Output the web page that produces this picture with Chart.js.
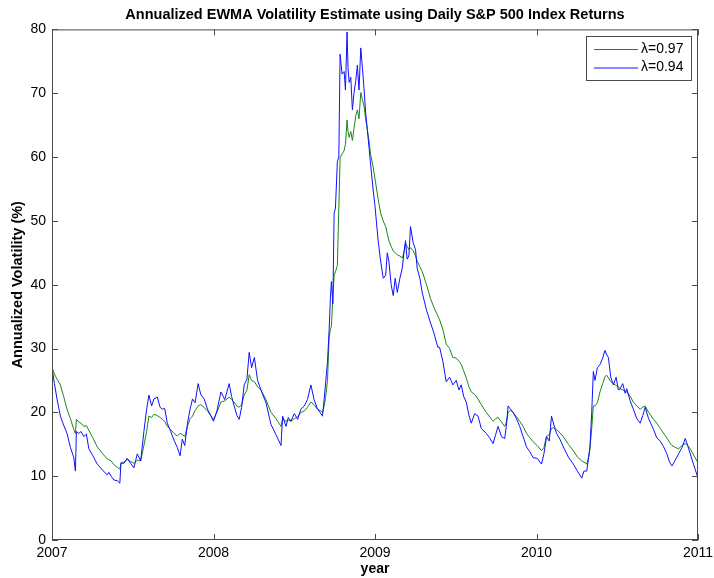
<!DOCTYPE html>
<html>
<head>
<meta charset="utf-8">
<script src="https://cdn.jsdelivr.net/npm/chart.js@4/dist/chart.umd.min.js"></script>
<style>
  html, body { margin: 0; padding: 0; background: #fff; }
  #wrap { width: 714px; height: 578px; }
</style>
</head>
<body>
<div id="wrap"><canvas id="myChart" width="714" height="578"></canvas></div>
<script>
// data (decimal years)
const years = [
  2007.000, 2007.015, 2007.031, 2007.052, 2007.072, 2007.093, 2007.114, 2007.135, 2007.145, 2007.151,
  2007.166, 2007.180, 2007.197, 2007.213, 2007.228, 2007.253, 2007.280, 2007.311, 2007.342, 2007.352,
  2007.366, 2007.383, 2007.404, 2007.420, 2007.427, 2007.445, 2007.466, 2007.487, 2007.507, 2007.528,
  2007.549, 2007.569, 2007.586, 2007.600, 2007.617, 2007.631, 2007.652, 2007.669, 2007.683, 2007.698,
  2007.714, 2007.735, 2007.756, 2007.776, 2007.793, 2007.807, 2007.822, 2007.839, 2007.855, 2007.870,
  2007.886, 2007.905, 2007.921, 2007.942, 2007.963, 2007.983, 2008.000, 2008.021, 2008.046, 2008.070,
  2008.097, 2008.112, 2008.128, 2008.145, 2008.159, 2008.174, 2008.190, 2008.207, 2008.221, 2008.236,
  2008.253, 2008.273, 2008.294, 2008.325, 2008.356, 2008.387, 2008.418, 2008.428, 2008.449, 2008.463,
  2008.479, 2008.500, 2008.521, 2008.541, 2008.562, 2008.582, 2008.603, 2008.623, 2008.644, 2008.660,
  2008.675, 2008.685, 2008.695, 2008.706, 2008.716, 2008.724, 2008.730, 2008.739, 2008.747, 2008.755,
  2008.767, 2008.776, 2008.784, 2008.796, 2008.809, 2008.817, 2008.827, 2008.833, 2008.840, 2008.850,
  2008.860, 2008.870, 2008.881, 2008.891, 2008.901, 2008.912, 2008.922, 2008.932, 2008.942, 2008.953,
  2008.963, 2008.973, 2008.988, 2009.000, 2009.019, 2009.035, 2009.051, 2009.066, 2009.076, 2009.086,
  2009.100, 2009.113, 2009.125, 2009.138, 2009.154, 2009.169, 2009.179, 2009.189, 2009.199, 2009.210,
  2009.220, 2009.237, 2009.251, 2009.261, 2009.278, 2009.292, 2009.319, 2009.344, 2009.364, 2009.389,
  2009.400, 2009.420, 2009.441, 2009.462, 2009.482, 2009.503, 2009.520, 2009.534, 2009.549, 2009.565,
  2009.582, 2009.596, 2009.617, 2009.638, 2009.658, 2009.689, 2009.710, 2009.731, 2009.747, 2009.762,
  2009.783, 2009.803, 2009.814, 2009.824, 2009.839, 2009.855, 2009.876, 2009.896, 2009.917, 2009.938,
  2009.959, 2009.979, 2010.004, 2010.031, 2010.046, 2010.062, 2010.079, 2010.093, 2010.108, 2010.124,
  2010.145, 2010.166, 2010.197, 2010.228, 2010.253, 2010.280, 2010.294, 2010.311, 2010.323, 2010.331,
  2010.342, 2010.352, 2010.362, 2010.377, 2010.393, 2010.410, 2010.424, 2010.435, 2010.445, 2010.460,
  2010.476, 2010.493, 2010.507, 2010.518, 2010.534, 2010.549, 2010.559, 2010.580, 2010.600, 2010.621,
  2010.642, 2010.658, 2010.673, 2010.694, 2010.725, 2010.745, 2010.766, 2010.787, 2010.807, 2010.824,
  2010.839, 2010.859, 2010.880, 2010.901, 2010.921, 2010.936, 2010.952, 2010.973, 2011.000
];

// lambda = 0.97
const vol97 = [
  27.0, 26.0, 25.2, 24.3, 22.5, 20.5, 19.0, 17.3, 16.7, 18.9,
  18.5, 18.3, 17.8, 17.9, 17.2, 16.0, 14.6, 13.6, 12.7, 12.6,
  12.4, 11.8, 11.4, 11.1, 12.0, 12.2, 12.6, 12.3, 12.0, 12.5,
  12.4, 14.8, 17.0, 19.4, 19.2, 19.7, 19.5, 19.2, 18.9, 18.6,
  17.8, 17.3, 16.7, 16.3, 16.7, 16.5, 16.2, 17.8, 19.0, 19.4,
  20.3, 21.0, 21.2, 20.8, 20.2, 19.5, 18.9, 20.0, 21.6, 21.8,
  22.4, 22.0, 21.6, 21.0, 20.8, 21.2, 22.7, 23.5, 25.9, 25.0,
  24.8, 24.0, 23.5, 22.0, 20.0, 19.0, 17.8, 19.0, 18.6, 18.8,
  18.6, 19.0, 19.3, 20.0, 20.2, 20.8, 21.6, 21.2, 20.5, 20.3,
  20.0, 21.0, 22.5, 25.0, 31.8, 33.0, 33.5, 38.0, 41.5, 42.0,
  43.0, 52.0, 59.9, 60.5, 61.0, 62.0, 65.8, 64.0, 63.1, 64.0,
  62.6, 64.5, 66.5, 67.4, 66.0, 70.1, 69.0, 68.0, 66.0, 64.2,
  62.5, 60.4, 58.5, 56.6, 53.5, 51.2, 50.0, 49.1, 48.0, 46.9,
  46.0, 45.3, 45.0, 44.7, 44.5, 44.2, 45.0, 46.4, 46.0, 45.5,
  45.8, 45.3, 44.5, 43.7, 42.8, 42.1, 40.0, 37.8, 36.5, 35.1,
  34.5, 33.0, 30.7, 30.0, 28.6, 28.5, 28.0, 27.5, 26.5, 25.4,
  24.0, 23.2, 22.8, 22.1, 21.2, 20.0, 19.3, 18.6, 19.0, 19.2,
  18.5, 17.8, 18.5, 20.0, 20.3, 20.0, 19.3, 18.6, 17.8, 16.7,
  16.0, 15.4, 14.8, 14.0, 14.5, 16.2, 16.5, 17.5, 17.6, 17.3,
  16.8, 16.2, 15.0, 14.0, 13.0, 12.4, 12.2, 11.9, 13.0, 14.3,
  17.5, 21.0, 21.0, 21.5, 23.2, 24.5, 25.6, 25.8, 25.4, 24.8,
  24.5, 24.2, 24.0, 23.7, 23.5, 23.3, 23.2, 22.5, 21.6, 21.0,
  20.5, 20.8, 21.0, 20.0, 18.9, 18.3, 17.5, 16.7, 16.0, 15.3,
  14.8, 14.5, 14.3, 14.8, 15.1, 14.8, 14.3, 13.3, 12.1
];

// lambda = 0.94
const vol94 = [
  27.0, 24.5, 22.1, 19.4, 18.0, 16.7, 14.5, 12.9, 10.8, 17.0,
  16.7, 17.0, 16.2, 16.6, 14.3, 13.2, 11.9, 11.0, 10.2, 10.6,
  10.0, 9.4, 9.3, 8.9, 12.1, 12.0, 12.8, 12.0, 11.3, 13.5,
  12.4, 17.0, 20.5, 22.7, 21.0, 22.1, 22.4, 20.8, 20.5, 20.6,
  18.3, 17.0, 15.6, 14.5, 13.2, 15.8, 14.8, 18.3, 20.5, 22.1,
  21.5, 24.5, 22.8, 22.1, 20.5, 19.5, 18.6, 20.2, 23.2, 22.0,
  24.5, 22.5, 21.0, 19.5, 18.9, 20.8, 24.3, 25.2, 29.4, 27.0,
  28.6, 25.0, 23.5, 21.5, 18.1, 16.5, 14.8, 19.4, 17.8, 19.2,
  18.6, 19.8, 18.9, 20.5, 21.0, 22.0, 24.3, 22.0, 20.5, 20.0,
  19.4, 22.0, 24.8, 28.0, 32.9, 38.0, 40.5, 37.0, 51.2, 52.0,
  59.3, 60.0, 76.1, 73.0, 73.4, 70.5, 79.6, 74.0, 71.7, 72.5,
  67.4, 70.0, 72.0, 74.4, 70.5, 77.1, 74.0, 70.7, 67.0, 64.2,
  61.5, 58.8, 55.0, 52.3, 47.0, 43.7, 41.0, 41.5, 45.0, 43.7,
  40.0, 38.3, 41.0, 38.8, 41.0, 42.6, 45.0, 46.9, 44.0, 44.5,
  49.1, 46.5, 45.5, 42.6, 41.0, 38.8, 36.0, 34.0, 32.5, 30.2,
  30.2, 28.0, 24.8, 25.5, 24.3, 25.0, 23.5, 24.3, 22.5, 21.6,
  19.5, 18.3, 19.8, 19.4, 17.5, 16.7, 16.0, 15.1, 16.5, 17.8,
  16.2, 15.9, 18.0, 21.0, 20.5, 20.0, 19.0, 17.8, 16.2, 14.6,
  13.8, 12.9, 12.8, 11.9, 13.5, 16.2, 15.5, 19.4, 18.0, 16.7,
  15.8, 14.6, 13.0, 11.9, 10.8, 9.7, 10.8, 10.8, 13.0, 14.6,
  20.0, 26.4, 25.0, 27.0, 27.5, 28.5, 29.7, 29.0, 28.6, 25.5,
  24.3, 25.5, 23.5, 23.7, 24.5, 23.0, 23.7, 21.8, 20.5, 19.0,
  18.3, 19.5, 20.8, 19.0, 17.3, 16.0, 15.5, 14.6, 13.5, 12.2,
  11.6, 12.5, 13.5, 14.5, 15.9, 14.8, 13.5, 11.8, 9.7
];

const seriesLabels = ['\u03bb=0.97', '\u03bb=0.94'];
const seriesColors = ['#1a861a', '#1010ff'];
const yTicks = [0, 10, 20, 30, 40, 50, 60, 70, 80];
const xTicks = [2007, 2008, 2009, 2010, 2011];

const FONT = '"Liberation Sans", Arial, Helvetica, sans-serif';

function pts(vals) {
    return years.map((y, i) => ({ x: y, y: vals[i] }));
}

// box, inward ticks and legend, MATLAB style
const matlabAxes = {
    id: 'matlabAxes',
    afterDraw(chart) {
        const c = chart.ctx;
        const a = chart.chartArea;
        const xs = chart.scales.x, ys = chart.scales.y;
        c.save();
        c.strokeStyle = '#4a4a4a';
        c.lineWidth = 1;
        c.strokeRect(a.left + 0.5, a.top + 0.5, a.right - a.left - 1, a.bottom - a.top - 1);
        c.beginPath();
        yTicks.forEach(v => {
            const py = Math.round(ys.getPixelForValue(v)) + 0.5;
            c.moveTo(a.left, py); c.lineTo(a.left + 6, py);
            c.moveTo(a.right, py); c.lineTo(a.right - 6, py);
        });
        xTicks.forEach(v => {
            const px = Math.round(xs.getPixelForValue(v)) + 0.5;
            c.moveTo(px, a.bottom); c.lineTo(px, a.bottom - 6);
            c.moveTo(px, a.top); c.lineTo(px, a.top + 6);
        });
        c.stroke();

        // legend
        const bx = 586, by = 36, bw = 105, bh = 44;
        c.fillStyle = '#fff';
        c.fillRect(bx, by, bw, bh);
        c.strokeStyle = '#4a4a4a';
        c.strokeRect(bx + 0.5, by + 0.5, bw, bh);
        c.font = '14px ' + FONT;
        c.textBaseline = 'middle';
        seriesLabels.forEach((lab, i) => {
            const ly = by + 13 + i * 18.5;
            c.strokeStyle = seriesColors[i];
            c.beginPath();
            c.moveTo(bx + 8, ly + 0.5); c.lineTo(bx + 52, ly + 0.5);
            c.stroke();
            c.fillStyle = '#000';
            c.fillText(lab, bx + 55, ly);
        });
        c.restore();
    }
};

const ctx = document.getElementById('myChart').getContext('2d');
const myChart = new Chart(ctx, {
    type: 'line',
    data: {
        datasets: [{
            label: seriesLabels[0],
            data: pts(vol97),
            borderColor: seriesColors[0],
            borderWidth: 1,
            pointRadius: 0,
            tension: 0,
            order: 1
        }, {
            label: seriesLabels[1],
            data: pts(vol94),
            borderColor: seriesColors[1],
            borderWidth: 1,
            pointRadius: 0,
            tension: 0,
            order: 0
        }]
    },
    options: {
        responsive: false,
        animation: false,
        layout: { padding: { left: 0, right: 16, top: 0, bottom: 0 } },
        plugins: {
            legend: { display: false },
            tooltip: { enabled: false },
            title: {
                display: true,
                fullSize: false,
                text: 'Annualized EWMA Volatility Estimate using Daily S&P 500 Index Returns',
                color: '#000',
                font: { family: FONT, size: 14.5, weight: 'bold' },
                padding: { top: 6, bottom: 6 }
            }
        },
        scales: {
            x: {
                type: 'linear',
                min: 2007,
                max: 2011,
                grid: { display: false, drawTicks: false },
                border: { display: false },
                ticks: {
                    stepSize: 1,
                    color: '#000',
                    padding: 5,
                    maxRotation: 0,
                    font: { family: FONT, size: 14 },
                    callback: v => String(v)
                },
                title: {
                    display: true,
                    text: 'year',
                    color: '#000',
                    font: { family: FONT, size: 14, weight: 'bold' },
                    padding: { top: 0, bottom: 0 }
                },
                afterFit: s => { s.height = 38; s.paddingRight = 0; s.paddingLeft = 0; }
            },
            y: {
                min: 0,
                max: 80,
                grid: { display: false, drawTicks: false },
                border: { display: false },
                ticks: {
                    stepSize: 10,
                    color: '#000',
                    padding: 6,
                    font: { family: FONT, size: 14 }
                },
                title: {
                    display: true,
                    text: 'Annualized Volatility (%)',
                    color: '#000',
                    font: { family: FONT, size: 14.5, weight: 'bold' },
                    padding: { top: 9, bottom: 0 }
                },
                afterFit: s => { s.width = 52; s.paddingTop = 0; s.paddingBottom = 0; }
            }
        }
    },
    plugins: [matlabAxes]
});
</script>
</body>
</html>
